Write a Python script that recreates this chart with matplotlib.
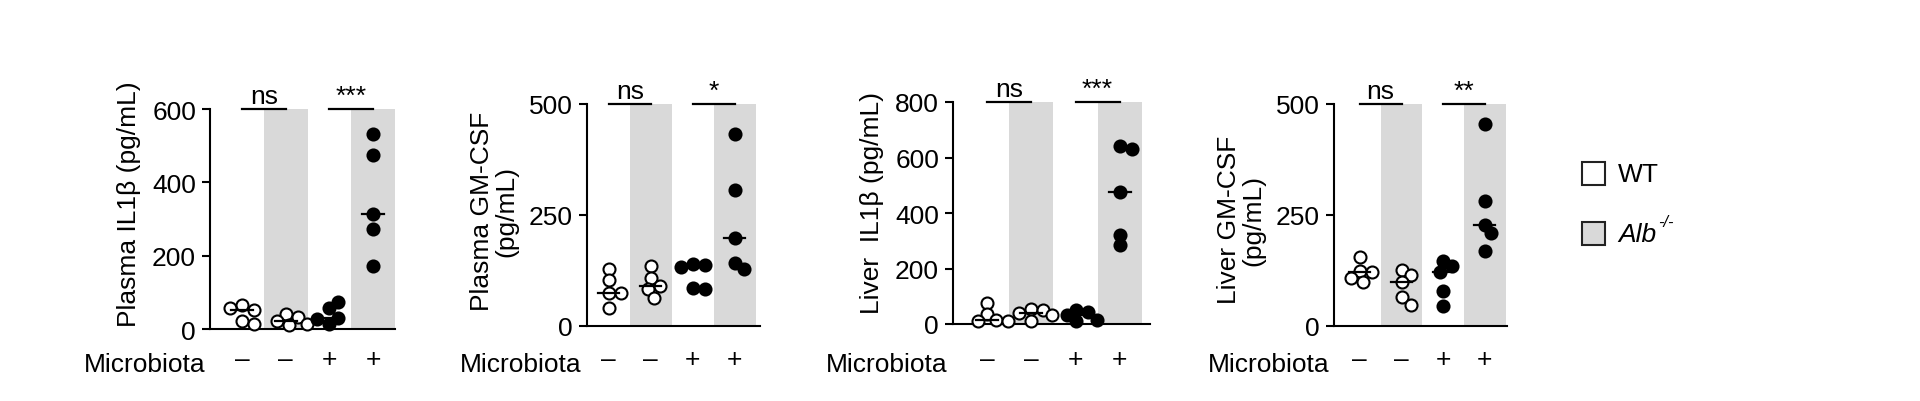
import numpy as np
import matplotlib
matplotlib.use('Agg')
import matplotlib.pyplot as plt
from matplotlib.patches import Rectangle

plt.rcParams['font.family'] = ['Liberation Sans', 'DejaVu Sans']

# data (pg/mL), groups: WT -, Alb -, WT +, Alb +
microbiota = ['–', '–', '+', '+']
plasma_il1b = [[65, 52, 58, 22, 14],
               [40, 33, 22, 14, 10],
               [58, 74, 14, 30, 27],
               [532, 475, 314, 273, 171]]
plasma_gmcsf = [[129, 103, 73, 73, 41],
                [135, 108, 90, 83, 62],
                [140, 137, 133, 85, 83],
                [432, 306, 198, 141, 128]]
liver_il1b = [[76, 36, 14, 12, 10],
              [55, 52, 38, 34, 12],
              [50, 42, 32, 15, 10],
              [640, 629, 475, 321, 283]]
liver_gmcsf = [[156, 123, 120, 107, 99],
               [126, 114, 98, 65, 47],
               [145, 134, 122, 78, 45],
               [456, 282, 228, 209, 169]]
ylabels = ['Plasma IL1β (pg/mL)', 'Plasma GM-CSF\n(pg/mL)',
           'Liver  IL1β (pg/mL)', 'Liver GM-CSF\n(pg/mL)']
yticks = [[0, 200, 400, 600], [0, 250, 500], [0, 200, 400, 600, 800], [0, 250, 500]]
sig = [['ns', '***'], ['ns', '*'], ['ns', '***'], ['ns', '**']]
legend_labels = ['WT', 'Alb']
legend_sup = ['', '-/-']

panels = [plasma_il1b, plasma_gmcsf, liver_il1b, liver_gmcsf]

# layout, in pixels of the 1920x402 canvas: left, right, bottom, top, xmin, xmax
W, H = 1920, 402
boxes = [(210, 395, 330, 110, -0.73, 3.5),
         (587, 760, 326.7, 105, -0.52, 3.6),
         (953, 1150, 325, 103, -0.78, 3.69),
         (1334, 1507, 326.7, 105, -0.62, 3.53)]
label_y = [0.57, 0.52, 0.55, 0.48]   # ylabel centre, axes fraction
XLAB_Y = 363                          # centre of the -/+ row, px from top

GRAY = '#d9d9d9'
FS = 19
DOT = 12  # px diameter


def swarm_x(ax, g, vals, d):
    # simple beeswarm: push points sideways until they don't overlap too much
    pts = ax.transData.transform(np.column_stack([np.full(len(vals), g), vals]))
    x0 = pts[0, 0]
    ppu = ax.transData.transform((g + 1, 0))[0] - x0
    sep = 0.85 * d
    placed = []
    xs = []
    for y in pts[:, 1]:
        for k in range(40):
            off = ((k + 1) // 2) * d / 4 * (1 if k % 2 else -1)
            if all((px - (x0 + off)) ** 2 + (py - y) ** 2 >= sep ** 2 for px, py in placed):
                break
        placed.append((x0 + off, y))
        xs.append(g + off / ppu)
    return xs


fig = plt.figure(figsize=(W / 100, H / 100), dpi=100)

for i, data in enumerate(panels):
    l, r, b, t, x1, x2 = boxes[i]
    ax = fig.add_axes([l / W, 1 - b / H, (r - l) / W, (b - t) / H])
    ax.set_xlim(x1, x2)
    ax.set_ylim(yticks[i][0], yticks[i][-1])
    ytop = yticks[i][-1]

    for g in (1, 3):
        ax.axvspan(g - 0.5, g + 0.5, color=GRAY, lw=0, zorder=0)

    for g, vals in enumerate(data):
        xs = swarm_x(ax, g, vals, DOT)
        face = 'white' if g < 2 else 'black'
        ax.plot(xs, vals, 'o', ms=DOT * 0.72, mfc=face, mec='black', mew=1.5,
                zorder=3, clip_on=False)
        med = np.median(vals)
        ax.plot([g - 0.25, g + 0.25], [med, med], color='black', lw=1.6, zorder=4)

    for j, s in enumerate(sig[i]):
        g = 2 * j
        ax.plot([g, g + 1], [ytop, ytop], color='black', lw=1.6, clip_on=False)
        ax.annotate(s, (g + 0.5, ytop), xytext=(0, 6), textcoords='offset pixels',
                    ha='center', va='baseline', fontsize=FS)

    for side in ('top', 'right'):
        ax.spines[side].set_visible(False)
    for side in ('left', 'bottom'):
        ax.spines[side].set_linewidth(1.5)
    ax.set_yticks(yticks[i])
    ax.set_xticks(range(4))
    ax.set_xticklabels(microbiota)
    pad_px = (XLAB_Y - b) - 0.56 * FS * 100 / 72
    ax.tick_params(axis='y', length=6, width=1.5, labelsize=FS, pad=4)
    ax.tick_params(axis='x', length=0, labelsize=FS, pad=pad_px * 72 / 100)
    ax.set_ylabel(ylabels[i], fontsize=FS, labelpad=8, linespacing=1.0)
    ax.yaxis.label.set_y(label_y[i])
    ax.annotate('Microbiota', (0, 0), xycoords='axes fraction',
                xytext=(-5, -(XLAB_Y + 9 - b)), textcoords='offset pixels',
                ha='right', va='baseline', fontsize=FS)

# legend, drawn by hand at the right
faces = ['white', GRAY]
styles = ['normal', 'italic']
for k, lab in enumerate(legend_labels):
    y_top = 163 + k * 60
    fig.add_artist(Rectangle((1582 / W, 1 - (y_top + 23) / H), 23 / W, 23 / H,
                             transform=fig.transFigure, facecolor=faces[k],
                             edgecolor='#222222', lw=1.5))
    t = fig.text(1618 / W, 1 - (y_top + 12) / H, lab, fontsize=FS, va='center',
                 style=styles[k])
    if legend_sup[k]:
        # superscript placed right after the label's box
        ax.annotate(legend_sup[k], xy=(1, 0.72), xycoords=t, xytext=(2, 0),
                    textcoords='offset pixels', ha='left', va='bottom',
                    fontsize=FS * 0.62, style='italic', annotation_clip=False)

fig.savefig('out.png', dpi=100)
